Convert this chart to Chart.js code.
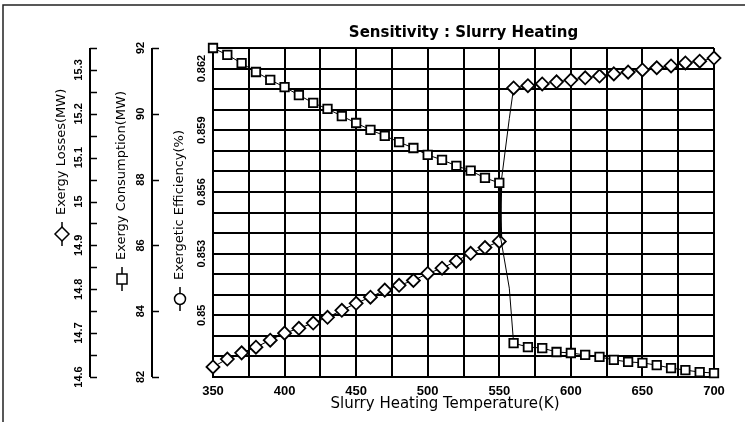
<!DOCTYPE html>
<html>
<head>
<meta charset="utf-8">
<script src="https://cdn.jsdelivr.net/npm/chart.js@4.4.0/dist/chart.umd.min.js"></script>
<style>
	html, body { margin: 0; padding: 0; background: #fff; }
	#wrap { width: 745px; height: 422px; position: relative; }
</style>
</head>
<body>
<div id="wrap"><canvas id="myChart"></canvas></div>
<script>
// temperatures (K); 551 and 557 are the points of the jump line (no marker)
const temps = [350, 360, 370, 380, 390, 400, 410, 420, 430, 440, 450, 460, 470, 480, 490, 500, 510, 520, 530, 540, 550,
	551, 557,
	560, 570, 580, 590, 600, 610, 620, 630, 640, 650, 660, 670, 680, 690, 700];
const exergyLosses = [14.623, 14.641, 14.655, 14.668, 14.684, 14.700, 14.711, 14.723, 14.736, 14.752, 14.768, 14.782, 14.798, 14.809, 14.820, 14.836, 14.848, 14.864, 14.882, 14.895, 14.909,
	15.036, 15.189,
	15.259, 15.264, 15.268, 15.273, 15.277, 15.282, 15.286, 15.291, 15.295, 15.300, 15.305, 15.309, 15.316, 15.320, 15.327];
const exergyConsumption = [92.0, 91.79, 91.54, 91.27, 91.03, 90.81, 90.57, 90.33, 90.15, 89.93, 89.72, 89.51, 89.33, 89.14, 88.96, 88.75, 88.60, 88.42, 88.27, 88.05, 87.90,
	86.22, 84.70,
	83.03, 82.91, 82.88, 82.76, 82.73, 82.67, 82.61, 82.52, 82.46, 82.43, 82.36, 82.27, 82.21, 82.15, 82.12];
const jumpPoints = [551, 557];

// axis ticks
const xLabels = [350, 400, 450, 500, 550, 600, 650, 700];
const lossTicks = [14.6, 14.65, 14.7, 14.75, 14.8, 14.85, 14.9, 14.95, 15, 15.05, 15.1, 15.15, 15.2, 15.25, 15.3, 15.35];
const lossLabels = [14.6, 14.7, 14.8, 14.9, 15, 15.1, 15.2, 15.3];
const consTicks = [82, 84, 86, 88, 90, 92];
const effLabels = [0.85, 0.853, 0.856, 0.859, 0.862];

const ctx = document.getElementById("myChart");

function markerRadius(r) {
	return temps.map((t) => (jumpPoints.includes(t) ? 0 : r));
}

// the short piece at 550 K is drawn heavier, like in the original
function jumpWidth(c) {
	return temps[c.p0DataIndex] === 550 ? 3 : 1;
}

function rotText(c, text, x, y, align) {
	c.save();
	c.translate(x, y);
	c.rotate(-Math.PI / 2);
	c.textAlign = align;
	c.textBaseline = "middle";
	c.fillText(text, 0, 0);
	c.restore();
}

// frame round the whole picture
const framePlugin = {
	id: "frame",
	beforeDraw(chart) {
		const c = chart.ctx;
		c.save();
		c.fillStyle = "#fff";
		c.fillRect(0, 0, chart.width, chart.height);
		c.strokeStyle = "#222";
		c.lineWidth = 1.5;
		c.strokeRect(3, 5, chart.width + 10, chart.height + 10);
		c.restore();
	},
};

// axis labels and the three value axes on the left, drawn from the chart's own scales
const axesPlugin = {
	id: "axesText",
	afterDraw(chart) {
		const c = chart.ctx;
		const area = chart.chartArea;
		const sX = chart.scales.x;
		const sLoss = chart.scales.yLoss;
		const sCons = chart.scales.yCons;
		const sEff = chart.scales.yEff;
		c.save();
		c.strokeStyle = "#000";
		c.fillStyle = "#000";

		// x tick labels and title
		c.font = "bold 13px 'Liberation Sans', Arial, sans-serif";
		c.textAlign = "center";
		c.textBaseline = "middle";
		xLabels.forEach((v) => c.fillText(String(v), sX.getPixelForValue(v), area.bottom + 14));
		c.font = "15px 'DejaVu Sans', sans-serif";
		c.fillText("Slurry Heating Temperature(K)", 445, area.bottom + 27);

		// axis lines with inward ticks
		[[sLoss, 90, lossTicks], [sCons, 152, consTicks]].forEach(([s, ax, ticks]) => {
			c.lineWidth = 2;
			c.beginPath();
			c.moveTo(ax, area.top);
			c.lineTo(ax, area.bottom);
			c.stroke();
			c.lineWidth = 1.5;
			ticks.forEach((v) => {
				const y = Math.round(s.getPixelForValue(v)) + 0.5;
				c.beginPath();
				c.moveTo(ax, y);
				c.lineTo(ax + 7, y);
				c.stroke();
			});
		});

		// tick labels, turned
		c.font = "bold 11px 'Liberation Sans', Arial, sans-serif";
		lossLabels.forEach((v) => rotText(c, String(v), 79, sLoss.getPixelForValue(v), "center"));
		consTicks.forEach((v) => rotText(c, String(v), 141, sCons.getPixelForValue(v), "center"));
		effLabels.forEach((v) => rotText(c, String(v), 202, sEff.getPixelForValue(v), "center"));

		// axis titles with their marker
		const titles = [
			{ x: 62, sy: 234, text: "Exergy Losses(MW)", shape: "diamond" },
			{ x: 122, sy: 279, text: "Exergy Consumption(MW)", shape: "square" },
			{ x: 180, sy: 299, text: "Exergetic Efficiency(%)", shape: "circle" },
		];
		c.font = "13px 'DejaVu Sans', sans-serif";
		titles.forEach((t) => {
			c.lineWidth = 1.5;
			c.beginPath();
			c.moveTo(t.x, t.sy - 12);
			c.lineTo(t.x, t.sy + 12);
			c.stroke();
			c.fillStyle = "#fff";
			c.beginPath();
			if (t.shape === "diamond") {
				c.moveTo(t.x, t.sy - 7);
				c.lineTo(t.x + 7, t.sy);
				c.lineTo(t.x, t.sy + 7);
				c.lineTo(t.x - 7, t.sy);
				c.closePath();
			} else if (t.shape === "square") {
				c.rect(t.x - 5, t.sy - 5, 10, 10);
			} else {
				c.arc(t.x, t.sy, 5.5, 0, Math.PI * 2);
			}
			c.fill();
			c.stroke();
			c.fillStyle = "#000";
			rotText(c, t.text, t.x, t.sy - 19, "left");
		});
		c.restore();
	},
};

let myChart = new Chart(ctx, {
	type: "line",
	data: {
		datasets: [
			{
				label: "Exergy Consumption(MW)",
				data: temps.map((t, i) => ({ x: t, y: exergyConsumption[i] })),
				yAxisID: "yCons",
				borderColor: "#000",
				borderWidth: 1,
				segment: { borderWidth: jumpWidth },
				backgroundColor: "#fff",
				pointStyle: "rect",
				pointRadius: markerRadius(6),
				pointBorderWidth: 1.8,
				pointBorderColor: "#000",
				pointBackgroundColor: "#fff",
				clip: false,
			},
			{
				label: "Exergy Losses(MW)",
				data: temps.map((t, i) => ({ x: t, y: exergyLosses[i] })),
				yAxisID: "yLoss",
				borderColor: "#000",
				borderWidth: 1,
				segment: { borderWidth: jumpWidth },
				backgroundColor: "#fff",
				pointStyle: "rectRot",
				pointRadius: markerRadius(6.5),
				pointBorderWidth: 1.8,
				pointBorderColor: "#000",
				pointBackgroundColor: "#fff",
				clip: false,
			},
		],
	},
	options: {
		responsive: true,
		maintainAspectRatio: false,
		animation: false,
		layout: {
			padding: { left: 213, right: 31, top: 0, bottom: 45 },
		},
		plugins: {
			legend: { display: false },
			tooltip: { enabled: false },
			title: {
				display: true,
				text: "Sensitivity : Slurry Heating",
				color: "#000",
				font: { family: "'DejaVu Sans', sans-serif", size: 15, weight: "bold" },
				padding: { top: 24, bottom: 6 },
			},
		},
		scales: {
			x: {
				type: "linear",
				min: 350,
				max: 700,
				grid: { color: "#000", lineWidth: 2, drawTicks: false },
				border: { color: "#000", width: 2 },
				ticks: { display: false, stepSize: 25 },
			},
			yEff: {
				axis: "y",
				type: "linear",
				position: "left",
				min: 0.847,
				max: 0.863,
				ticks: { display: false, stepSize: 0.001 },
				grid: { color: "#000", lineWidth: 2, drawTicks: false },
				border: { color: "#000", width: 2 },
				afterFit: (s) => {
					s.width = 0;
				},
			},
			yLoss: {
				axis: "y",
				type: "linear",
				display: false,
				min: 14.6,
				max: 15.35,
			},
			yCons: {
				axis: "y",
				type: "linear",
				display: false,
				min: 82,
				max: 92,
			},
		},
	},
	plugins: [framePlugin, axesPlugin],
});
</script>
</body>
</html>
